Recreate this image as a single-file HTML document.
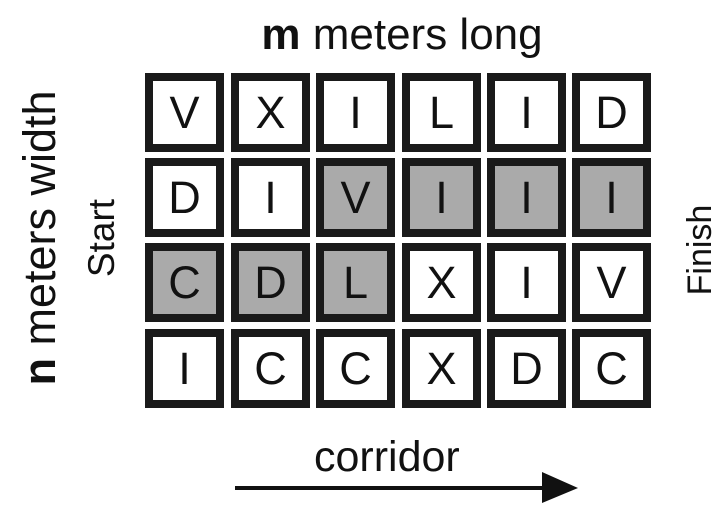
<!DOCTYPE html>
<html><head><style>
body{margin:0;width:724px;height:518px;background:#fff;overflow:hidden;position:relative;font-family:"Liberation Sans",Arial,sans-serif;}
.c{position:absolute;width:63px;height:63px;border:8px solid #1a1a1a;background:#fff;font-size:45px;line-height:63px;text-align:center;color:#111;}
.g{background:#aaa;}
.t{position:absolute;white-space:nowrap;color:#111;}
</style></head><body>
<div class="t" style="left:0;width:804px;text-align:center;top:10px;font-size:44px;line-height:50px;"><b>m</b> meters long</div>
<div class="t" style="left:40px;top:238px;font-size:45px;line-height:46px;transform:translate(-50%,-50%) rotate(-90deg);"><b>n</b> meters width</div>
<div class="t" style="left:102px;top:238px;font-size:37px;line-height:40px;transform:translate(-50%,-50%) rotate(-90deg);">Start</div>
<div class="t" style="left:700px;top:250px;font-size:34px;line-height:38px;transform:translate(-50%,-50%) rotate(-90deg);">Finish</div>
<div class="t" style="left:314px;top:433px;font-size:43px;line-height:48px;">corridor</div>
<svg style="position:absolute;left:0;top:0" width="724" height="518"><line x1="235" y1="488" x2="548" y2="488" stroke="#111" stroke-width="4"/><polygon points="542,472 578,488 542,503" fill="#111"/></svg>
<div id="grid"></div>
<script>
var L=[["V","X","I","L","I","D"],["D","I","V","I","I","I"],["C","D","L","X","I","V"],["I","C","C","X","D","C"]];
var G={"1,2":1,"1,3":1,"1,4":1,"1,5":1,"2,0":1,"2,1":1,"2,2":1};
var xs=[145,231,316,402,487,572],ys=[73,158,243,329],h="";
for(var r=0;r<4;r++)for(var c=0;c<6;c++)h+='<div class="c'+(G[r+","+c]?" g":"")+'" style="left:'+xs[c]+'px;top:'+ys[r]+'px">'+L[r][c]+'</div>';
document.getElementById("grid").innerHTML=h;
</script>
</body></html>
